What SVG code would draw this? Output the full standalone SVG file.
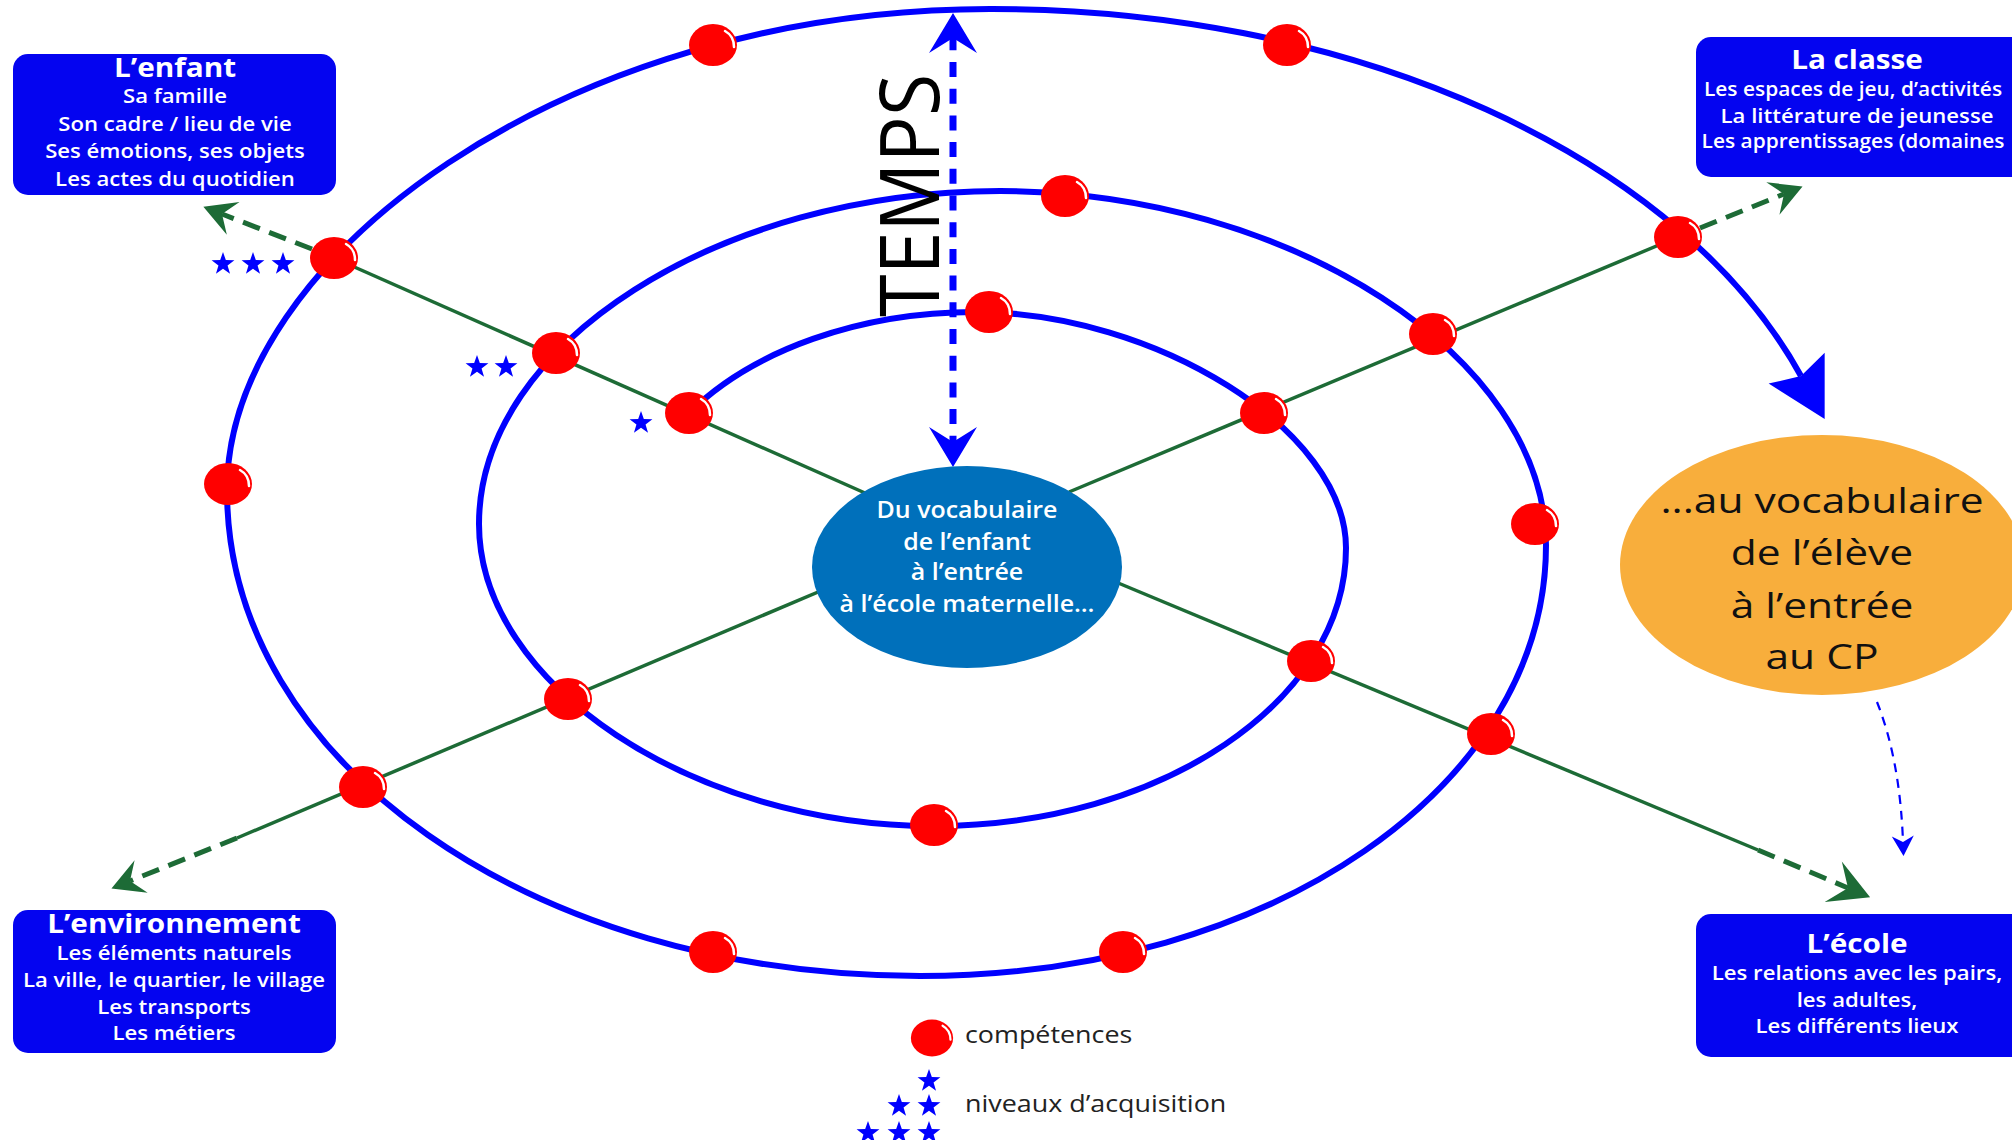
<svg xmlns="http://www.w3.org/2000/svg" xmlns:xlink="http://www.w3.org/1999/xlink" width="2012" height="1140" viewBox="0 0 2012 1140">
<style>
.box{fill:#0404f0}
.ttl{font-family:"Open Sans","DejaVu Sans",sans-serif;font-weight:700;font-size:27.5px;fill:#fff;text-anchor:middle}
.txt{font-family:"Open Sans","DejaVu Sans",sans-serif;font-weight:600;font-size:20.5px;fill:#fff;text-anchor:middle}
.ctr{font-family:"Open Sans","DejaVu Sans",sans-serif;font-weight:600;font-size:22.5px;fill:#fff;text-anchor:middle}
.cp{font-family:"Open Sans","DejaVu Sans",sans-serif;font-weight:400;font-size:34px;fill:#111;text-anchor:middle}
.leg{font-family:"Open Sans","DejaVu Sans",sans-serif;font-weight:400;font-size:24px;fill:#222}
.temps{font-family:"Open Sans","DejaVu Sans",sans-serif;font-weight:400;font-size:82px;fill:#000}
.ring{fill:none;stroke:#0000ff;stroke-width:6}
.gsolid{fill:none;stroke:#1d6b36;stroke-width:3.5}
.gdash{fill:none;stroke:#1d6b36;stroke-width:5;stroke-dasharray:18 10}
.star{fill:#0000ff}
</style>
<defs>
<marker id="mGreen" markerUnits="userSpaceOnUse" orient="auto" overflow="visible" markerWidth="1" markerHeight="1" refX="0" refY="0">
<path d="M20,0 L-12,-17.5 L0,0 L-12,17.5 Z" fill="#1d6b36"/>
</marker>
<marker id="mGreenL" markerUnits="userSpaceOnUse" orient="auto" overflow="visible" markerWidth="1" markerHeight="1" refX="0" refY="0">
<path d="M24,0 L-16,-22 L0,0 L-16,22 Z" fill="#1d6b36"/>
</marker>
<marker id="mTemps" markerUnits="userSpaceOnUse" orient="auto-start-reverse" overflow="visible" markerWidth="1" markerHeight="1" refX="0" refY="0">
<path d="M25,0 L-15,-24 L0,0 L-15,24 Z" fill="#0000ff"/>
</marker>
<marker id="mSpiral" markerUnits="userSpaceOnUse" orient="auto" overflow="visible" markerWidth="1" markerHeight="1" refX="0" refY="0">
<path d="M49,0 L-9,-32 L0,0 L-9,32 Z" fill="#0000ff"/>
</marker>
<marker id="mSmall" markerUnits="userSpaceOnUse" orient="auto" overflow="visible" markerWidth="1" markerHeight="1" refX="0" refY="0">
<path d="M14,0 L-6,-11 L0,0 L-6,11 Z" fill="#0000ff"/>
</marker>
<g id="dot">
<ellipse cx="0" cy="0" rx="24" ry="21" fill="#ff0000"/>
<path d="M12,-14 Q21,-9 21,2" fill="none" stroke="#ffffff" stroke-width="2.5" stroke-linecap="round"/>
</g>
<path id="star" class="star" d="M0,-11 L2.82,-2.88 L11.41,-2.71 L4.56,2.48 L7.05,10.71 L0,5.8 L-7.05,10.71 L-4.56,2.48 L-11.41,-2.71 L-2.82,-2.88 Z"/>
</defs>

<rect width="2012" height="1140" fill="#ffffff"/>

<g id="connectors">
<path id="spirale" class="ring" marker-end="url(#mSpiral)" d="M689,413 A345 228 0 0 1 975 312 C1155,312 1346,430 1346,548 C1346,701 1161,826 934,826 C693,826 479,684 479,524 C479,344 719,191 1000,191 C1289,191 1546,357 1546,545 C1546,786 1271,976 920,976 C532,976 227,762 227,490 C227,259 563,9 990,9 A858 551 0 0 1 1801 376"/>
<path class="gsolid" d="M865,493 L334,258"/>
<path class="gdash" d="M312,249 L222,214" marker-end="url(#mGreen)"/>
<path class="gsolid" d="M1069,492 L1678,237"/>
<path class="gdash" d="M1700,228 L1784,194" marker-end="url(#mGreen)"/>
<path class="gsolid" d="M837,584 L237,838"/>
<path class="gdash" d="M237,838 L130,881" marker-end="url(#mGreen)"/>
<path class="gsolid" d="M1111,580 L1758,850"/>
<path class="gdash" d="M1758,850 L1848,888" marker-end="url(#mGreenL)"/>
<path id="temps-fleche" d="M953,38 L953,442" fill="none" stroke="#0000ff" stroke-width="7" stroke-dasharray="15 11.7" stroke-dashoffset="2.7" marker-start="url(#mTemps)" marker-end="url(#mTemps)"/>
<path d="M1877,702 Q1900,760 1903,842" fill="none" stroke="#0000ff" stroke-width="2.2" stroke-dasharray="9 7" marker-end="url(#mSmall)"/>
</g>

<g id="temps">
<text class="temps" transform="translate(939 317) rotate(-90) scale(0.94 1)" x="0" y="0">TEMPS</text>
</g>

<g id="competences">
<use href="#dot" x="689" y="413"/>
<use href="#dot" x="989" y="312"/>
<use href="#dot" x="1264" y="413"/>
<use href="#dot" x="1311" y="661"/>
<use href="#dot" x="934" y="825"/>
<use href="#dot" x="568" y="699"/>
<use href="#dot" x="556" y="353"/>
<use href="#dot" x="1065" y="196"/>
<use href="#dot" x="1433" y="334"/>
<use href="#dot" x="1535" y="524"/>
<use href="#dot" x="1491" y="734"/>
<use href="#dot" x="1123" y="952"/>
<use href="#dot" x="713" y="952"/>
<use href="#dot" x="363" y="787"/>
<use href="#dot" x="228" y="484"/>
<use href="#dot" x="334" y="258"/>
<use href="#dot" x="713" y="45"/>
<use href="#dot" x="1287" y="45"/>
<use href="#dot" x="1678" y="237"/>
</g>

<g id="niveaux">
<use href="#star" x="223" y="263"/>
<use href="#star" x="253" y="263"/>
<use href="#star" x="283" y="263"/>
<use href="#star" x="477" y="366"/>
<use href="#star" x="506" y="366"/>
<use href="#star" x="641" y="422"/>
</g>

<g id="centre">
<ellipse cx="967" cy="567" rx="155" ry="101" fill="#0070bb"/>
<g transform="translate(967 0) scale(1.11 1)">
<text class="ctr" x="0" y="518">Du vocabulaire</text>
<text class="ctr" x="0" y="550">de l’enfant</text>
<text class="ctr" x="0" y="580">à l’entrée</text>
<text class="ctr" x="0" y="612">à l’école maternelle…</text>
</g>
</g>

<g id="cp">
<ellipse cx="1822" cy="565" rx="202" ry="130" fill="#f8ae3c"/>
<g transform="translate(1822 0) scale(1.25 1)">
<text class="cp" x="0" y="513">...au vocabulaire</text>
<text class="cp" x="0" y="565">de l’élève</text>
<text class="cp" x="0" y="618">à l’entrée</text>
<text class="cp" x="0" y="669">au CP</text>
</g>
</g>

<g id="enfant">
<rect class="box" x="13" y="54" width="323" height="141" rx="15"/>
<g transform="translate(175 0) scale(1.08 1)">
<text class="ttl" x="0" y="77">L’enfant</text>
<text class="txt" x="0" y="103">Sa famille</text>
<text class="txt" x="0" y="131">Son cadre / lieu de vie</text>
<text class="txt" x="0" y="158">Ses émotions, ses objets</text>
<text class="txt" x="0" y="186">Les actes du quotidien</text>
</g>
</g>

<g id="classe">
<rect class="box" x="1696" y="37" width="340" height="140" rx="15"/>
<g transform="translate(1857 0) scale(1.08 1)">
<text class="ttl" x="0" y="69">La classe</text>
<text class="txt" x="0" y="123">La littérature de jeunesse</text>
</g>
<g transform="translate(1853 0) scale(1.02 1)">
<text class="txt" x="0" y="96">Les espaces de jeu, d’activités</text>
<text class="txt" x="0" y="148">Les apprentissages (domaines</text>
</g>
</g>

<g id="environnement">
<rect class="box" x="13" y="910" width="323" height="143" rx="15"/>
<g transform="translate(174 0) scale(1.08 1)">
<text class="ttl" x="0" y="933">L’environnement</text>
<text class="txt" x="0" y="960">Les éléments naturels</text>
<text class="txt" x="0" y="987">La ville, le quartier, le village</text>
<text class="txt" x="0" y="1014">Les transports</text>
<text class="txt" x="0" y="1040">Les métiers</text>
</g>
</g>

<g id="ecole">
<rect class="box" x="1696" y="914" width="340" height="143" rx="15"/>
<g transform="translate(1857 0) scale(1.08 1)">
<text class="ttl" x="0" y="953">L’école</text>
<text class="txt" x="0" y="980">Les relations avec les pairs,</text>
<text class="txt" x="0" y="1007">les adultes,</text>
<text class="txt" x="0" y="1033">Les différents lieux</text>
</g>
</g>

<g id="legende">
<use href="#dot" transform="translate(932 1038) scale(0.88)"/>
<use href="#star" x="929" y="1080"/>
<use href="#star" x="899" y="1105"/>
<use href="#star" x="929" y="1105"/>
<use href="#star" x="868" y="1132"/>
<use href="#star" x="899" y="1132"/>
<use href="#star" x="929" y="1132"/>
<g transform="translate(965 0) scale(1.12 1)">
<text class="leg" x="0" y="1043">compétences</text>
<text class="leg" x="0" y="1112">niveaux d’acquisition</text>
</g>
</g>
</svg>
